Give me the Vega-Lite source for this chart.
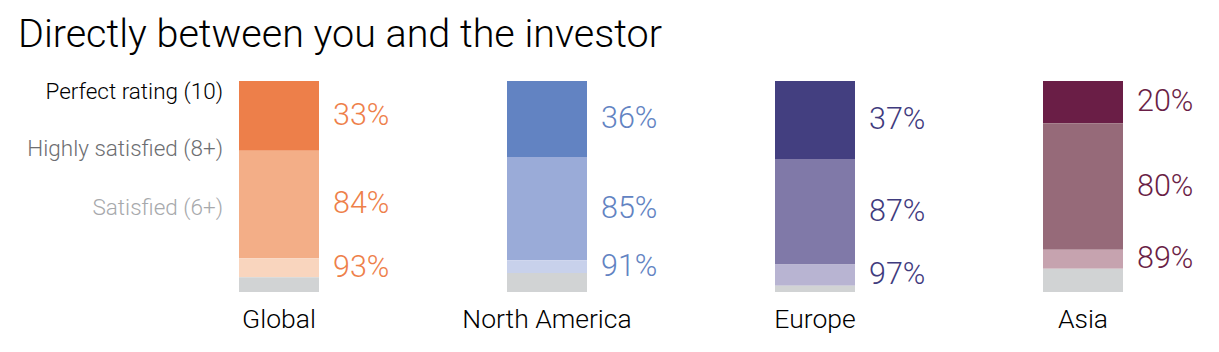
{
  "$schema": "https://vega.github.io/schema/vega-lite/v6.json",
  "autosize": "none",
  "width": 1072,
  "height": 211,
  "padding": {"left": 145, "top": 81, "right": 2, "bottom": 60},
  "background": "white",
  "config": {"view": {"stroke": null}, "font": "Roboto"},
  "title": {
    "text": "Directly between you and the investor",
    "anchor": "start",
    "frame": "group",
    "dx": -127,
    "offset": 25,
    "fontSize": 39.5,
    "fontWeight": 300,
    "font": "Roboto",
    "color": "#000000"
  },
  "datasets": {
    "bars": [
      {"region": "Global", "level": "Perfect", "cum": 33},
      {"region": "Global", "level": "Highly", "cum": 84},
      {"region": "Global", "level": "Satisfied", "cum": 93},
      {"region": "Global", "level": "Other", "cum": 100},
      {"region": "North America", "level": "Perfect", "cum": 36},
      {"region": "North America", "level": "Highly", "cum": 85},
      {"region": "North America", "level": "Satisfied", "cum": 91},
      {"region": "North America", "level": "Other", "cum": 100},
      {"region": "Europe", "level": "Perfect", "cum": 37},
      {"region": "Europe", "level": "Highly", "cum": 87},
      {"region": "Europe", "level": "Satisfied", "cum": 97},
      {"region": "Europe", "level": "Other", "cum": 100},
      {"region": "Asia", "level": "Perfect", "cum": 20},
      {"region": "Asia", "level": "Highly", "cum": 80},
      {"region": "Asia", "level": "Satisfied", "cum": 89},
      {"region": "Asia", "level": "Other", "cum": 100}
    ],
    "legendText": [
      {"region": "Global", "label": "Perfect rating (10)", "pos": 5},
      {"region": "Global", "label": "Highly satisfied (8+)", "pos": 32},
      {"region": "Global", "label": "Satisfied (6+)", "pos": 60}
    ]
  },
  "encoding": {
    "x": {
      "field": "region",
      "type": "nominal",
      "scale": {
        "domain": ["Global", "North America", "Europe", "Asia"],
        "paddingInner": 0.7015,
        "paddingOuter": 0.35075
      },
      "axis": {
        "title": null,
        "domain": false,
        "ticks": false,
        "labelAngle": 0,
        "labelFont": "Roboto",
        "labelFontSize": 26.5,
        "labelFontWeight": 300,
        "labelColor": "#000000",
        "labelPadding": 14
      }
    }
  },
  "layer": [
    {
      "data": {"name": "bars"},
      "transform": [
        {"window": [{"op": "lag", "field": "cum", "as": "prev"}], "groupby": ["region"], "sort": [{"field": "cum"}]},
        {"calculate": "datum.prev == null ? 0 : datum.prev", "as": "lo"},
        {"calculate": "datum.region + '|' + datum.level", "as": "key"}
      ],
      "mark": {"type": "bar"},
      "encoding": {
        "y": {"field": "lo", "type": "quantitative", "scale": {"domain": [0, 100], "reverse": true, "nice": false, "zero": true}, "axis": null},
        "y2": {"field": "cum"},
        "color": {
          "field": "key",
          "type": "nominal",
          "legend": null,
          "scale": {
            "domain": [
              "Global|Perfect", "Global|Highly", "Global|Satisfied", "Global|Other",
              "North America|Perfect", "North America|Highly", "North America|Satisfied", "North America|Other",
              "Europe|Perfect", "Europe|Highly", "Europe|Satisfied", "Europe|Other",
              "Asia|Perfect", "Asia|Highly", "Asia|Satisfied", "Asia|Other"
            ],
            "range": [
              "#ED7F4A", "#F3AE87", "#F9D5BE", "#D1D3D4",
              "#6283C2", "#9AABD8", "#C8D1EB", "#D1D3D4",
              "#433F80", "#8079A8", "#B8B4D2", "#D1D3D4",
              "#6A1E46", "#966A79", "#C6A3AF", "#D1D3D4"
            ]
          }
        }
      }
    },
    {
      "data": {"name": "bars"},
      "transform": [
        {"window": [{"op": "lag", "field": "cum", "as": "prev"}], "groupby": ["region"], "sort": [{"field": "cum"}]},
        {"calculate": "datum.prev == null ? 0 : datum.prev", "as": "lo"},
        {"calculate": "(datum.lo + datum.cum) / 2", "as": "mid"},
        {"filter": "datum.level != 'Other'"},
        {"calculate": "datum.cum + '%'", "as": "txt"}
      ],
      "mark": {"type": "text", "align": "left", "baseline": "middle", "dx": 54, "fontSize": 30.5, "fontWeight": 300, "font": "Roboto"},
      "encoding": {
        "y": {"field": "mid", "type": "quantitative"},
        "text": {"field": "txt"},
        "color": {
          "field": "region",
          "type": "nominal",
          "legend": null,
          "scale": {
            "domain": ["Global", "North America", "Europe", "Asia"],
            "range": ["#EE7F4A", "#6283C2", "#3F3B7E", "#6A1E46"]
          }
        }
      }
    },
    {
      "data": {"name": "legendText"},
      "mark": {"type": "text", "align": "right", "baseline": "middle", "dx": -56, "fontSize": 22.5, "fontWeight": 300, "font": "Roboto"},
      "encoding": {
        "y": {"field": "pos", "type": "quantitative"},
        "text": {"field": "label"},
        "color": {
          "field": "label",
          "type": "nominal",
          "legend": null,
          "scale": {
            "domain": ["Perfect rating (10)", "Highly satisfied (8+)", "Satisfied (6+)"],
            "range": ["#000000", "#6D6E71", "#A7A9AC"]
          }
        }
      }
    }
  ],
  "resolve": {"scale": {"color": "independent"}}
}
